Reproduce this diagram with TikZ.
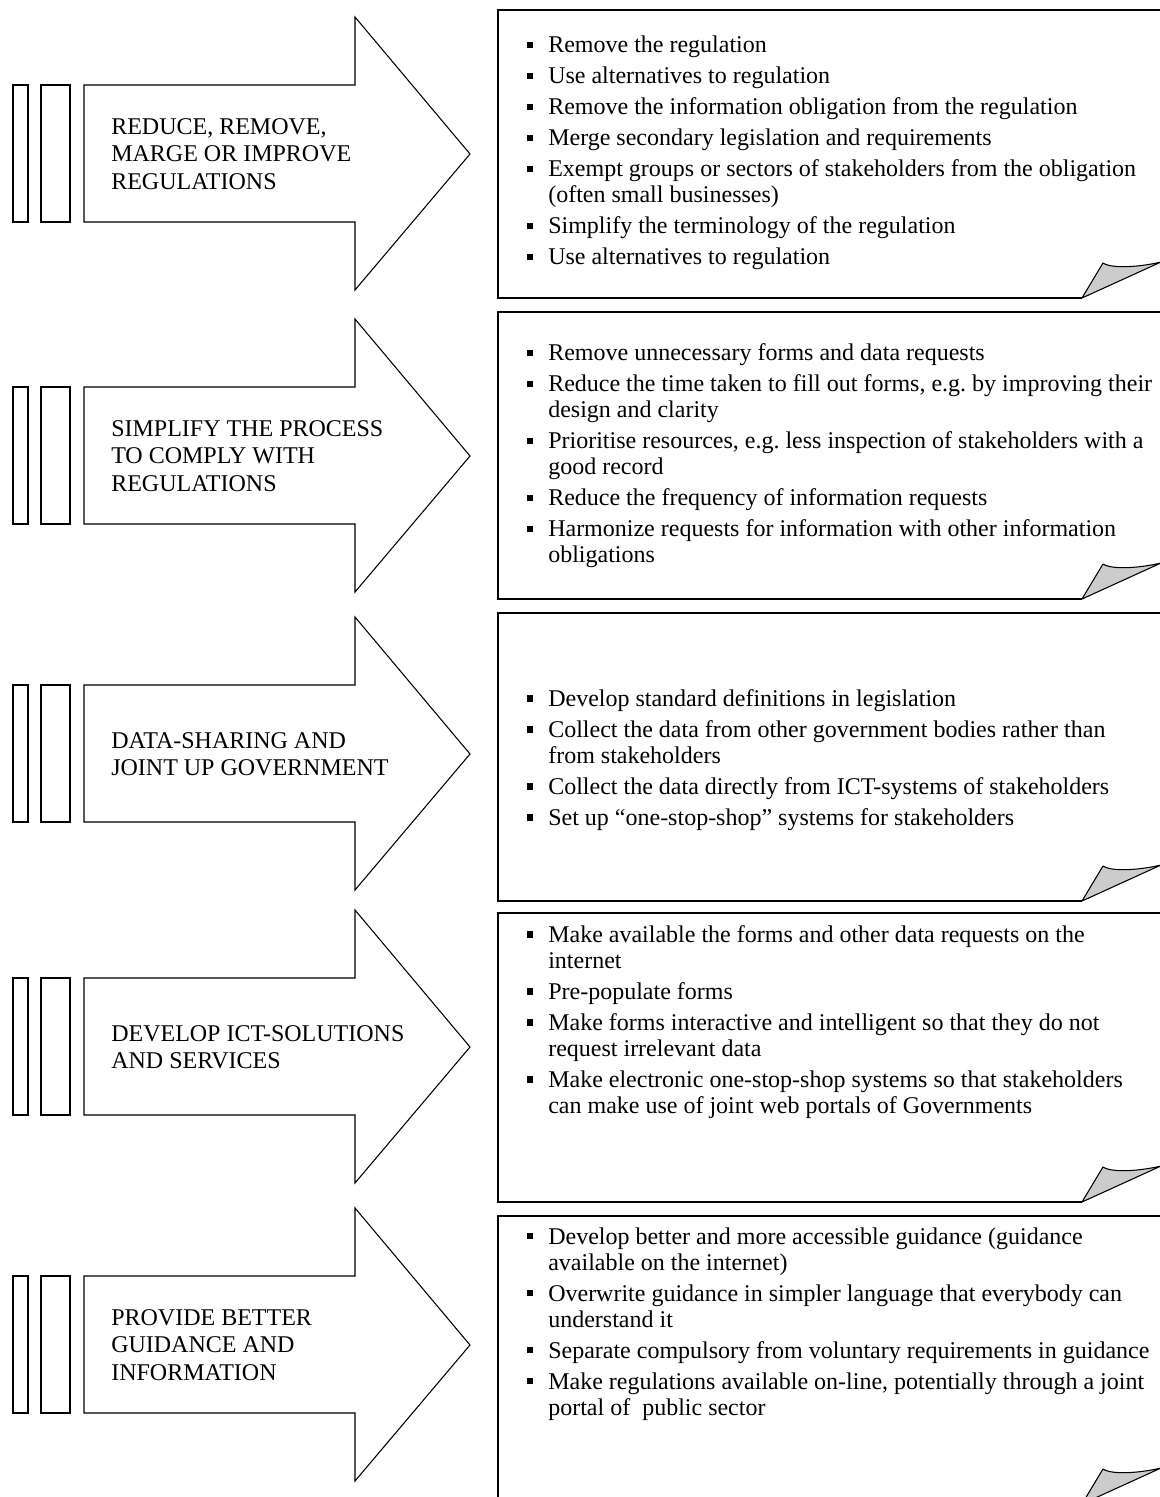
\documentclass[tikz,border=0pt]{standalone}
\usepackage{fontspec}
\setmainfont{Liberation Serif}
\frenchspacing
\newcommand{\sqb}{\makebox[15.75pt][l]{\rule[3.6pt]{4.6pt}{4.6pt}}}
\newcommand{\cont}{\hspace*{15.75pt}}

\begin{document}
\begin{tikzpicture}[x=0.75pt, y=-0.75pt,
    shape line/.style={draw, line width=0.8pt, fill=white},
    note line/.style={draw, line width=1.1pt},
    fold/.style={draw, line width=0.8pt, fill=black!20, line join=round},
    headtext/.style={anchor=west, align=left, inner sep=0pt, font=\fontsize{18}{20.6}\selectfont},
    listtext/.style={anchor=west, align=left, inner sep=0pt, font=\fontsize{18}{19.5}\selectfont}]
    \clip (0,0) rectangle (1160,1497);
    % arrows on the left
    \foreach \r/\t in {1/17, 2/319, 3/617, 4/910, 5/1208} {
      \draw[shape line] (13,\t+68) rectangle (28,\t+205);
      \draw[shape line] (41,\t+68) rectangle (70,\t+205);
      \draw[shape line] (84,\t+68) -- (355,\t+68) -- (355,\t) -- (470,\t+137)
        -- (355,\t+273) -- (355,\t+205) -- (84,\t+205) -- cycle;
    }
    % note boxes with turned corner
    \foreach \r/\a/\b in {1/10/298, 2/312/599, 3/613/901, 4/913/1202, 5/1216/1504} {
      \draw[note line] (1082,\b) -- (498,\b) -- (498,\a) -- (1163,\a) -- (1163,\b-35);
      \draw[fold] (1082,\b) -- (1103,\b-35) .. controls (1112,\b-29) and (1140,\b-31) .. (1161,\b-36) -- cycle;
    }
    \node[headtext] (head1) at (111,154) {REDUCE, REMOVE,\\MARGE OR IMPROVE\\REGULATIONS};
    \node[headtext] (head2) at (111,456) {SIMPLIFY THE PROCESS\\TO COMPLY WITH\\REGULATIONS};
    \node[headtext] (head3) at (111,754) {DATA-SHARING AND\\JOINT UP GOVERNMENT};
    \node[headtext] (head4) at (111,1047) {DEVELOP ICT-SOLUTIONS\\AND SERVICES};
    \node[headtext] (head5) at (111,1345) {PROVIDE BETTER\\GUIDANCE AND\\INFORMATION};

    \node[listtext] (list1) at (527,153) {%
      \sqb Remove the regulation\\[3.75pt]
      \sqb Use alternatives to regulation\\[3.75pt]
      \sqb Remove the information obligation from the regulation\\[3.75pt]
      \sqb Merge secondary legislation and requirements\\[3.75pt]
      \sqb Exempt groups or sectors of stakeholders from the obligation\\
      \cont (often small businesses)\\[3.75pt]
      \sqb Simplify the terminology of the regulation\\[3.75pt]
      \sqb Use alternatives to regulation};
    \node[listtext] (list2) at (527,456) {%
      \sqb Remove unnecessary forms and data requests\\[3.75pt]
      \sqb Reduce the time taken to fill out forms, e.g. by improving their\\
      \cont design and clarity\\[3.75pt]
      \sqb Prioritise resources, e.g. less inspection of stakeholders with a\\
      \cont good record\\[3.75pt]
      \sqb Reduce the frequency of information requests\\[3.75pt]
      \sqb Harmonize requests for information with other information\\
      \cont obligations};
    \node[listtext] (list3) at (527,760) {%
      \sqb Develop standard definitions in legislation\\[3.75pt]
      \sqb Collect the data from other government bodies rather than\\
      \cont from stakeholders\\[3.75pt]
      \sqb Collect the data directly from ICT-systems of stakeholders\\[3.75pt]
      \sqb Set up “one-stop-shop” systems for stakeholders};
    \node[listtext] (list4) at (527,1022) {%
      \sqb Make available the forms and other data requests on the\\
      \cont internet\\[3.75pt]
      \sqb Pre-populate forms\\[3.75pt]
      \sqb Make forms interactive and intelligent so that they do not\\
      \cont request irrelevant data\\[3.75pt]
      \sqb Make electronic one-stop-shop systems so that stakeholders\\
      \cont can make use of joint web portals of Governments};
    \node[listtext] (list5) at (527,1324) {%
      \sqb Develop better and more accessible guidance (guidance\\
      \cont available on the internet)\\[3.75pt]
      \sqb Overwrite guidance in simpler language that everybody can\\
      \cont understand it\\[3.75pt]
      \sqb Separate compulsory from voluntary requirements in guidance\\[3.75pt]
      \sqb Make regulations available on-line, potentially through a joint\\
      \cont portal of \ public sector};
\end{tikzpicture}
\end{document}
